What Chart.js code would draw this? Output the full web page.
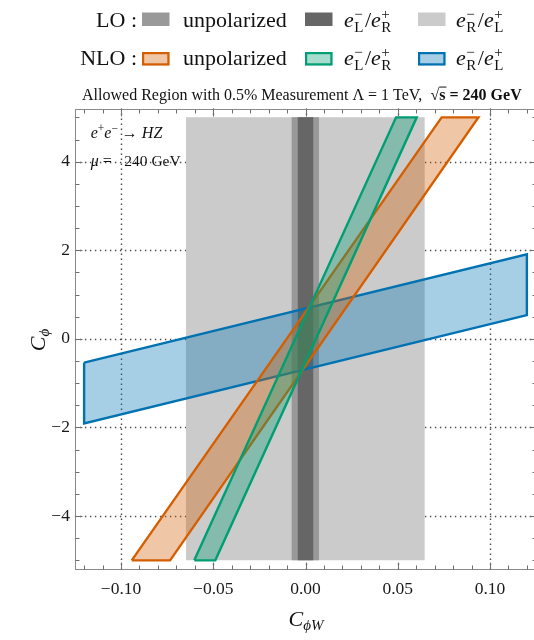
<!DOCTYPE html>
<html>
<head>
<meta charset="utf-8">
<script src="https://cdn.jsdelivr.net/npm/chart.js@4.4.1/dist/chart.umd.min.js"></script>
<style>
  html, body { margin: 0; padding: 0; background: #fff; overflow: hidden; width: 534px; height: 640px; }
  canvas { display: block; }
</style>
</head>
<body>
<canvas id="chart" width="560" height="640"></canvas>
<script>
// Allowed (C_phiW, C_phi) regions for a 0.5% measurement of e+e- -> HZ at sqrt(s) = 240 GeV

// Axis ranges and tick labels
const xRange = [-0.125, 0.125];
const yRange = [-5.2, 5.2];
const xTickValues = [-0.10, -0.05, 0.00, 0.05, 0.10];
const xTickLabels = ['−0.10', '−0.05', '0.00', '0.05', '0.10'];
const yTickValues = [-4, -2, 0, 2, 4];
const yTickLabels = ['−4', '−2', '0', '2', '4'];

// LO: allowed C_phiW intervals (independent of C_phi)
const loUnpolX = [-0.0075, 0.0073];
const loLRX = [-0.0042, 0.0042];
const loRLX = [-0.0648, 0.0646];
const loY = [-5, 5];

// NLO: corners of the allowed regions (C_phiW, C_phi)
const nloUnpolX = [-0.0942, -0.0734, 0.0937, 0.0738];
const nloUnpolY = [-5, -5, 5, 5];
const nloLRX = [-0.0603, -0.0489, 0.0603, 0.0491];
const nloLRY = [-5, -5, 5, 5];
const nloRLX = [-0.12, 0.12, 0.12, -0.12];
const nloRLY = [-0.535, 1.91, 0.535, -1.91];

const SERIF = '"Liberation Serif", "Times New Roman", serif';
Chart.defaults.font.family = SERIF;

function polygon(xs, ys) {
  const pts = xs.map((x, i) => ({ x: x, y: ys[i] }));
  pts.push({ x: xs[0], y: ys[0] });
  return pts;
}
function band(xr, yr) {
  return polygon([xr[0], xr[1], xr[1], xr[0]], [yr[0], yr[0], yr[1], yr[1]]);
}

const ORANGE = '#d55e00', GREEN = '#009e73', BLUE = '#0072b2';
const ORANGE_FILL = 'rgba(213,94,0,0.35)', GREEN_FILL = 'rgba(0,158,115,0.35)', BLUE_FILL = 'rgba(0,114,178,0.35)';
const GRAY_MID = '#999999', GRAY_DARK = '#666666', GRAY_LIGHT = '#cbcbcb';

function region(label, data, fillColor, lineColor, width, order) {
  return {
    label: label, data: data, fill: 'shape',
    backgroundColor: fillColor, borderColor: lineColor, borderWidth: width,
    borderJoinStyle: 'miter', pointRadius: 0, pointHoverRadius: 0, tension: 0, order: order
  };
}

const datasets = [
  region('NLO e_L^-/e_R^+', polygon(nloLRX, nloLRY), GREEN_FILL, GREEN, 2.4, 1),
  region('NLO unpolarized', polygon(nloUnpolX, nloUnpolY), ORANGE_FILL, ORANGE, 2.4, 2),
  region('NLO e_R^-/e_L^+', polygon(nloRLX, nloRLY), BLUE_FILL, BLUE, 2.4, 3),
  region('LO e_L^-/e_R^+', band(loLRX, loY), GRAY_DARK, 'rgba(0,0,0,0)', 0, 4),
  region('LO unpolarized', band(loUnpolX, loY), GRAY_MID, 'rgba(0,0,0,0)', 0, 5),
  region('LO e_R^-/e_L^+', band(loRLX, loY), GRAY_LIGHT, 'rgba(0,0,0,0)', 0, 6)
];

// ---- rich text helper (italic / bold, sub- and superscripts) ----
function fontStr(style, size) {
  const it = style && style.indexOf('i') >= 0 ? 'italic ' : '';
  const bd = style && style.indexOf('b') >= 0 ? 'bold ' : '';
  return it + bd + size + 'px ' + SERIF;
}
function drawRich(ctx, x, y, runs, dryRun, scale) {
  const k = scale || 1;
  let cx = x;
  for (const r of runs) {
    if (r.stack) {
      ctx.font = fontStr(r.style, r.size * k);
      const w1 = ctx.measureText(r.stack[0]).width;
      const w2 = ctx.measureText(r.stack[1]).width;
      if (!dryRun) {
        ctx.fillText(r.stack[0], cx + (r.dx || 0), y - r.up);
        ctx.fillText(r.stack[1], cx + (r.dx || 0), y + r.down);
      }
      cx += Math.max(w1, w2) + (r.dx || 0) + (r.after || 0);
    } else {
      ctx.font = fontStr(r.style, r.size * k);
      const w = ctx.measureText(r.t).width;
      if (!dryRun) ctx.fillText(r.t, cx, y + (r.dy || 0) * k);
      if (r.overline && !dryRun) ctx.fillRect(cx, y - r.overline * k, w + 1, 1);
      cx += w + (r.after || 0);
    }
  }
  return cx - x;
}

// ---- dotted grid under the regions, frame with inward ticks over them ----
const frameGrid = {
  id: 'frameGrid',
  beforeDatasetsDraw(chart) {
    const { ctx, chartArea: a, scales: { x, y } } = chart;
    ctx.save();
    ctx.strokeStyle = '#4a4a4a';
    ctx.lineWidth = 1.4;
    ctx.setLineDash([1.4, 3.6]);
    for (const v of xTickValues) {
      const px = Math.round(x.getPixelForValue(v)) + 0.5;
      ctx.beginPath(); ctx.moveTo(px, a.top); ctx.lineTo(px, a.bottom); ctx.stroke();
    }
    for (const v of yTickValues) {
      const py = Math.round(y.getPixelForValue(v)) + 0.5;
      ctx.beginPath(); ctx.moveTo(a.left, py); ctx.lineTo(a.right, py); ctx.stroke();
    }
    ctx.restore();
  },
  afterDatasetsDraw(chart) {
    const { ctx, chartArea: a, scales: { x, y } } = chart;
    ctx.save();
    ctx.strokeStyle = '#8a8a8a';
    ctx.lineWidth = 1;
    const L = Math.round(a.left) + 0.5, R = Math.round(a.right) + 0.5;
    const T = Math.round(a.top) + 0.5, B = Math.round(a.bottom) + 0.5;
    ctx.strokeRect(L, T, R - L, B - T);
    ctx.strokeStyle = '#6e6e6e';
    ctx.beginPath();
    for (let k = -12; k <= 12; k++) {
      const px = Math.round(x.getPixelForValue(k / 100)) + 0.5;
      const len = k % 5 === 0 ? 7 : 4;
      ctx.moveTo(px, B); ctx.lineTo(px, B - len);
      ctx.moveTo(px, T); ctx.lineTo(px, T + len);
    }
    for (let k = -10; k <= 10; k++) {
      const py = Math.round(y.getPixelForValue(k / 2)) + 0.5;
      const len = k % 4 === 0 ? 7 : 4;
      ctx.moveTo(L, py); ctx.lineTo(L + len, py);
      ctx.moveTo(R, py); ctx.lineTo(R - len, py);
    }
    ctx.stroke();
    ctx.restore();
  }
};

// ---- legend, plot label, in-plot note and axis titles ----
const lrRuns = [
  { t: 'e', style: 'i', size: 22 },
  { stack: ['−', 'L'], size: 15, up: 8, down: 5, dx: 0.5, after: 1.5 },
  { t: '/', size: 22 },
  { t: 'e', style: 'i', size: 22 },
  { stack: ['+', 'R'], size: 15, up: 8, down: 5, dx: 0.5 }
];
const rlRuns = [
  { t: 'e', style: 'i', size: 22 },
  { stack: ['−', 'R'], size: 15, up: 8, down: 5, dx: 0.5, after: 1.5 },
  { t: '/', size: 22 },
  { t: 'e', style: 'i', size: 22 },
  { stack: ['+', 'L'], size: 15, up: 8, down: 5, dx: 0.5 }
];
const unpolRuns = [{ t: 'unpolarized', size: 22 }];

const legendRows = [
  { head: 'LO :', baseline: 26.5, top: 12.5, items: [[4, unpolRuns], [3, lrRuns], [5, rlRuns]], outlined: false },
  { head: 'NLO :', baseline: 65, top: 52, items: [[1, unpolRuns], [0, lrRuns], [2, rlRuns]], outlined: true }
];
const swatchX = [142, 305, 418];
const labelX = [183, 344, 456];

const annotations = {
  id: 'annotations',
  afterDraw(chart) {
    const ctx = chart.ctx;
    ctx.save();
    ctx.fillStyle = '#111';
    ctx.textBaseline = 'alphabetic';

    // legend
    for (const row of legendRows) {
      ctx.font = fontStr('', 22);
      ctx.textAlign = 'right';
      ctx.fillText(row.head, 137, row.baseline);
      ctx.textAlign = 'left';
      row.items.forEach(([di, runs], k) => {
        const ds = chart.data.datasets[di];
        const sx = swatchX[k], sw = 27.5, sh = 13.5;
        ctx.fillStyle = ds.backgroundColor;
        ctx.fillRect(sx, row.top, sw, sh);
        if (row.outlined) {
          ctx.strokeStyle = ds.borderColor;
          ctx.lineWidth = 2.2;
          ctx.strokeRect(sx + 1.1, row.top + 1.1, sw - 2.2, sh - 2.2);
        }
        ctx.fillStyle = '#111';
        drawRich(ctx, labelX[k], row.baseline, runs);
      });
    }

    // plot label, sized to span from x = 82 to x = 522
    const titleRuns = [
      { t: 'Allowed Region with 0.5% Measurement Λ = 1 TeV,  ', size: 13 },
      { t: '√', style: 'b', size: 13 },
      { t: 's', style: 'b', size: 13, overline: 10.5 },
      { t: ' = 240 GeV', style: 'b', size: 13 }
    ];
    const tw = drawRich(ctx, 0, 0, titleRuns, true, 1);
    const tk = 440 / tw;
    drawRich(ctx, 82, 99.5, titleRuns, false, tk);

    // process and scale note
    drawRich(ctx, 90.7, 137.5, [
      { t: 'e', style: 'i', size: 16 },
      { t: '+', size: 11.5, dy: -6 },
      { t: 'e', style: 'i', size: 16 },
      { t: '−', size: 11.5, dy: -6 },
      { t: ' → ', size: 16 },
      { t: 'HZ', style: 'i', size: 16 }
    ]);
    drawRich(ctx, 90.7, 166, [
      { t: 'μ', style: 'i', size: 16 },
      { t: ' =', size: 16 }
    ]);
    ctx.font = fontStr('', 15.5);
    ctx.fillText('240 GeV', 124.3, 166);

    // axis titles
    const xTitle = [{ t: 'C', style: 'i', size: 22 }, { t: 'ϕW', style: 'i', size: 15, dy: 4 }];
    const xw = drawRich(ctx, 0, 0, xTitle, true);
    drawRich(ctx, 306 - xw / 2, 626, xTitle);

    const yTitle = [{ t: 'C', style: 'i', size: 22 }, { t: 'ϕ', style: 'i', size: 15, dy: 4 }];
    const yw = drawRich(ctx, 0, 0, yTitle, true);
    ctx.translate(45, 340);
    ctx.rotate(-Math.PI / 2);
    drawRich(ctx, -yw / 2, 0, yTitle);
    ctx.restore();
  }
};

const AREA = { left: 74.9, top: 108.5, right: 536.1, bottom: 569.2 };
const CANVAS_W = 560, CANVAS_H = 640;

new Chart(document.getElementById('chart'), {
  type: 'line',
  data: { datasets: datasets },
  options: {
    responsive: false,
    animation: false,
    devicePixelRatio: 1,
    events: [],
    layout: {
      autoPadding: false,
      padding: { left: 0, top: AREA.top, right: CANVAS_W - AREA.right, bottom: 0 }
    },
    plugins: { legend: { display: false }, tooltip: { enabled: false }, title: { display: false } },
    scales: {
      x: {
        type: 'linear', min: xRange[0], max: xRange[1],
        grid: { display: false, drawTicks: false },
        border: { display: false },
        afterBuildTicks: s => { s.ticks = xTickValues.map(v => ({ value: v })); },
        afterFit: s => { s.height = CANVAS_H - AREA.bottom; },
        ticks: {
          callback: (v, i) => xTickLabels[i],
          font: { family: SERIF, size: 17.5 }, color: '#1a1a1a',
          padding: 9.5, maxRotation: 0, autoSkip: false
        }
      },
      y: {
        type: 'linear', min: yRange[0], max: yRange[1],
        grid: { display: false, drawTicks: false },
        border: { display: false },
        afterBuildTicks: s => { s.ticks = yTickValues.map(v => ({ value: v })); },
        afterFit: s => { s.width = AREA.left; },
        ticks: {
          callback: (v, i) => yTickLabels[i],
          font: { family: SERIF, size: 17.5 }, color: '#1a1a1a',
          padding: 5, autoSkip: false
        }
      }
    }
  },
  plugins: [frameGrid, annotations]
});
</script>
</body>
</html>
